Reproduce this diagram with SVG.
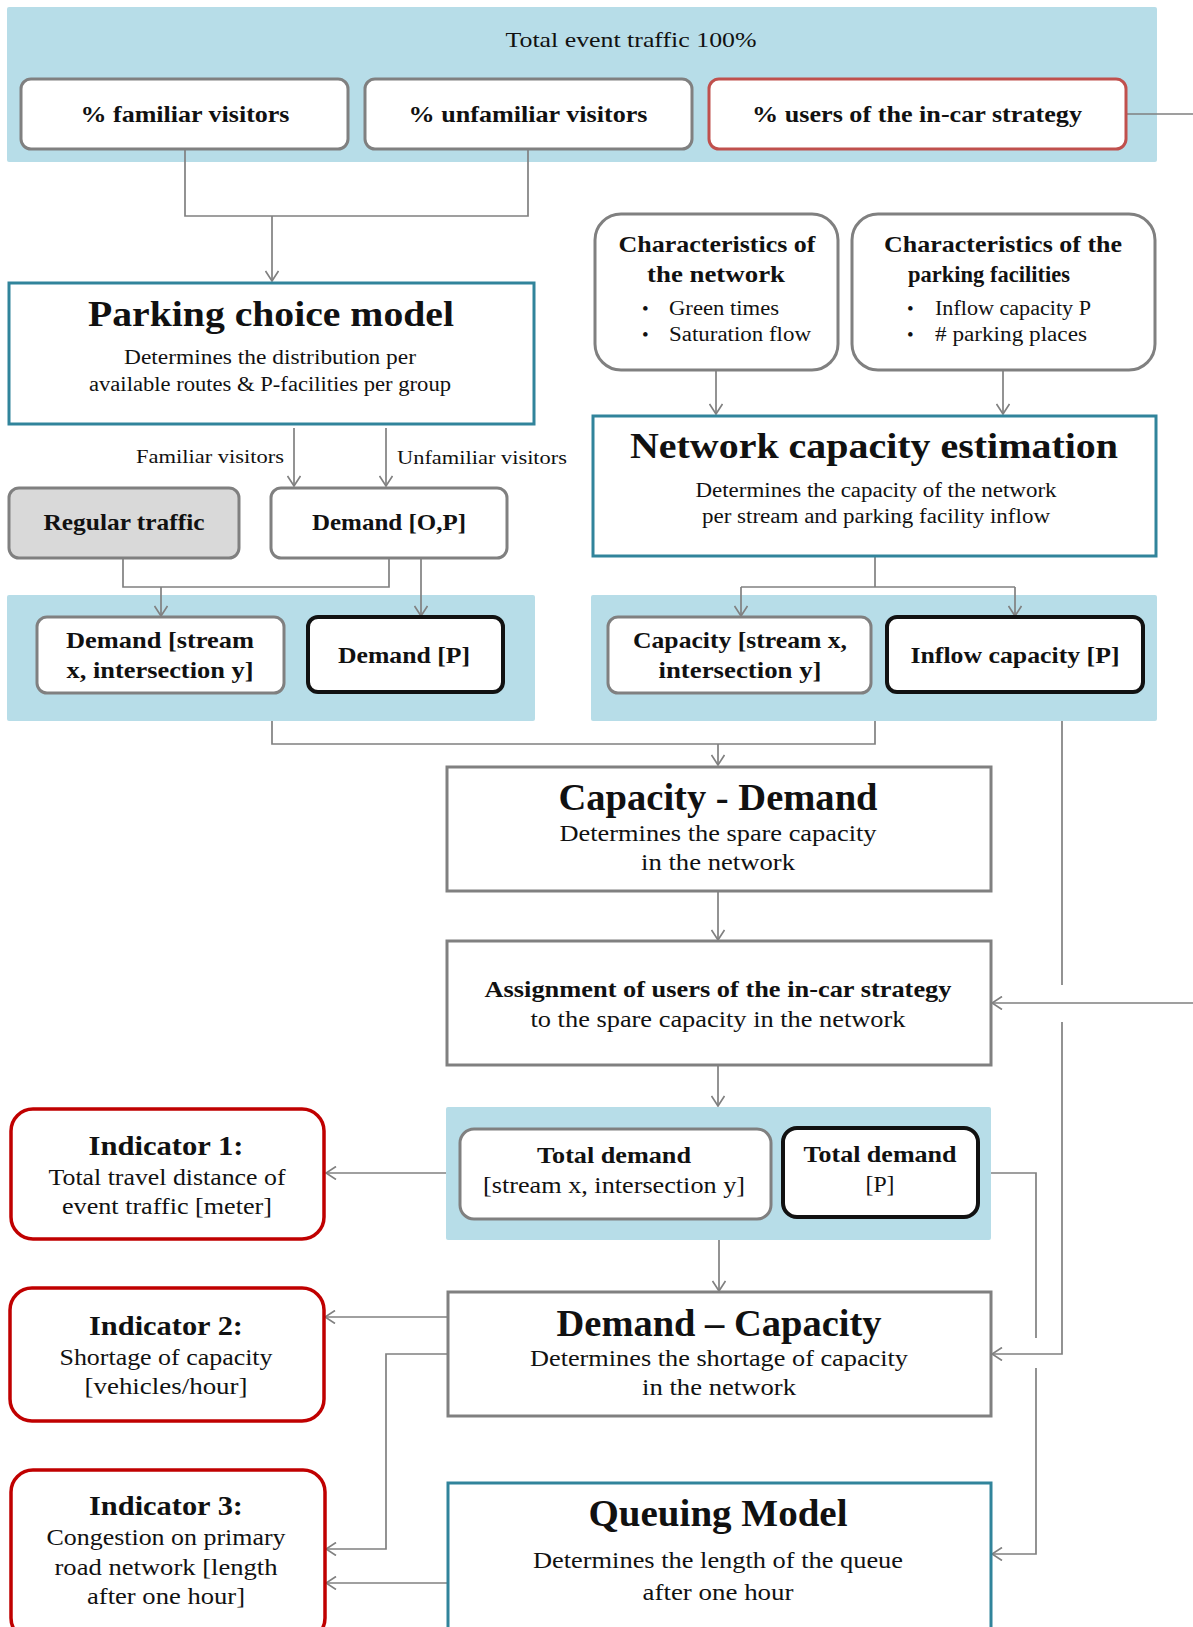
<svg xmlns="http://www.w3.org/2000/svg" width="1193" height="1627" viewBox="0 0 1193 1627">
  <style>
    .band { fill: #b7dde8; }
    .gbox { fill: #ffffff; stroke: #808080; stroke-width: 3; }
    .kbox { fill: #ffffff; stroke: #111111; stroke-width: 4; }
    .tbox { fill: #ffffff; stroke: #31849b; stroke-width: 3; }
    .rbox { fill: #ffffff; stroke: #c00000; stroke-width: 3.5; }
    .obox { fill: #ffffff; stroke: #c0504d; stroke-width: 3; }
    .grey { fill: #d9d9d9; stroke: #808080; stroke-width: 3; }
    .conn { fill: none; stroke: #808080; stroke-width: 1.7; }
    text { font-family: "Liberation Serif", "Times New Roman", serif; fill: #111111; text-anchor: middle; }
    .b { font-weight: bold; }
    .l { text-anchor: start; }
    .r { text-anchor: end; }
  </style>
  <defs>
    <marker id="arr" viewBox="0 0 12 14" refX="11" refY="7" markerWidth="12" markerHeight="14" orient="auto" markerUnits="userSpaceOnUse">
      <path d="M1,0.5 L11,7 L1,13.5" fill="none" stroke="#808080" stroke-width="1.7"/>
    </marker>
  </defs>

  <!-- shaded groupings -->
  <rect class="band" x="7" y="7" width="1150" height="155" rx="2"/>
  <rect class="band" x="7" y="595" width="528" height="126" rx="2"/>
  <rect class="band" x="591" y="595" width="566" height="126" rx="2"/>
  <rect class="band" x="446" y="1107" width="545" height="133" rx="2"/>

  <!-- connectors -->
  <g id="connectors">
    <path class="conn" d="M185,149 V216 H528 V149"/>
    <path class="conn" d="M272,216 V281" marker-end="url(#arr)"/>
    <path class="conn" d="M294,428 V486" marker-end="url(#arr)"/>
    <path class="conn" d="M386,428 V486" marker-end="url(#arr)"/>
    <path class="conn" d="M123,558 V587 H389 V558"/>
    <path class="conn" d="M161,587 V616" marker-end="url(#arr)"/>
    <path class="conn" d="M421,558 V616" marker-end="url(#arr)"/>
    <path class="conn" d="M716,370 V414" marker-end="url(#arr)"/>
    <path class="conn" d="M1003,370 V414" marker-end="url(#arr)"/>
    <path class="conn" d="M875,556 V587"/>
    <path class="conn" d="M741,587 H1015"/>
    <path class="conn" d="M741,587 V616" marker-end="url(#arr)"/>
    <path class="conn" d="M1015,587 V616" marker-end="url(#arr)"/>
    <path class="conn" d="M272,721 V744 H875 V721"/>
    <path class="conn" d="M718,744 V765" marker-end="url(#arr)"/>
    <path class="conn" d="M718,891 V940" marker-end="url(#arr)"/>
    <path class="conn" d="M1126,114 H1215 V1003 H992" marker-end="url(#arr)"/>
    <path class="conn" d="M1062,721 V985 M1062,1022 V1354 H992" marker-end="url(#arr)"/>
    <path class="conn" d="M718,1065 V1106" marker-end="url(#arr)"/>
    <path class="conn" d="M446,1173 H326" marker-end="url(#arr)"/>
    <path class="conn" d="M991,1173 H1036 V1338 M1036,1368 V1554 H992" marker-end="url(#arr)"/>
    <path class="conn" d="M719,1240 V1291" marker-end="url(#arr)"/>
    <path class="conn" d="M448,1317 H325" marker-end="url(#arr)"/>
    <path class="conn" d="M448,1354 H386 V1549 H326" marker-end="url(#arr)"/>
    <path class="conn" d="M448,1583 H326" marker-end="url(#arr)"/>
  </g>

  <text x="631" y="47" font-size="22" textLength="251" lengthAdjust="spacingAndGlyphs">Total event traffic 100%</text>

  <g id="familiar">
    <rect class="gbox" x="21" y="79" width="327" height="70" rx="10"/>
    <text class="b" x="185" y="122" font-size="23" textLength="209" lengthAdjust="spacingAndGlyphs">% familiar visitors</text>
  </g>
  <g id="unfamiliar">
    <rect class="gbox" x="365" y="79" width="327" height="70" rx="10"/>
    <text class="b" x="528" y="122" font-size="23" textLength="239" lengthAdjust="spacingAndGlyphs">% unfamiliar visitors</text>
  </g>
  <g id="incar">
    <rect class="obox" x="709" y="79" width="417" height="70" rx="10"/>
    <text class="b" x="917" y="122" font-size="23" textLength="330" lengthAdjust="spacingAndGlyphs">% users of the in-car strategy</text>
  </g>

  <g id="parking-choice">
    <rect class="tbox" x="9" y="283" width="525" height="141"/>
    <text class="b" x="271" y="326" font-size="36" textLength="366" lengthAdjust="spacingAndGlyphs">Parking choice model</text>
    <text x="270" y="364" font-size="20" textLength="292" lengthAdjust="spacingAndGlyphs">Determines the distribution per</text>
    <text x="270" y="391" font-size="20" textLength="362" lengthAdjust="spacingAndGlyphs">available routes &amp; P-facilities per group</text>
  </g>

  <text class="r" x="284" y="463" font-size="19" textLength="148" lengthAdjust="spacingAndGlyphs">Familiar visitors</text>
  <text class="l" x="397" y="464" font-size="19" textLength="170" lengthAdjust="spacingAndGlyphs">Unfamiliar visitors</text>

  <g id="regular-traffic">
    <rect class="grey" x="9" y="488" width="230" height="70" rx="10"/>
    <text class="b" x="124" y="530" font-size="23" textLength="161" lengthAdjust="spacingAndGlyphs">Regular traffic</text>
  </g>
  <g id="demand-op">
    <rect class="gbox" x="271" y="488" width="236" height="70" rx="10"/>
    <text class="b" x="389" y="530" font-size="23" textLength="154" lengthAdjust="spacingAndGlyphs">Demand [O,P]</text>
  </g>

  <g id="char-network">
    <rect class="gbox" x="595" y="214" width="243" height="156" rx="26"/>
    <text class="b" x="717" y="252" font-size="23" textLength="197" lengthAdjust="spacingAndGlyphs">Characteristics of</text>
    <text class="b" x="716" y="282" font-size="23" textLength="138" lengthAdjust="spacingAndGlyphs">the network</text>
    <text class="l" x="642" y="315" font-size="19">•</text>
    <text class="l" x="669" y="315" font-size="20" textLength="110" lengthAdjust="spacingAndGlyphs">Green times</text>
    <text class="l" x="642" y="341" font-size="19">•</text>
    <text class="l" x="669" y="341" font-size="20" textLength="142" lengthAdjust="spacingAndGlyphs">Saturation flow</text>
  </g>
  <g id="char-parking">
    <rect class="gbox" x="852" y="214" width="303" height="156" rx="26"/>
    <text class="b" x="1003" y="252" font-size="23" textLength="238" lengthAdjust="spacingAndGlyphs">Characteristics of the</text>
    <text class="b" x="989" y="282" font-size="23" textLength="162" lengthAdjust="spacingAndGlyphs">parking facilities</text>
    <text class="l" x="907" y="315" font-size="19">•</text>
    <text class="l" x="935" y="315" font-size="20" textLength="156" lengthAdjust="spacingAndGlyphs">Inflow capacity P</text>
    <text class="l" x="907" y="341" font-size="19">•</text>
    <text class="l" x="935" y="341" font-size="20" textLength="152" lengthAdjust="spacingAndGlyphs"># parking places</text>
  </g>

  <g id="network-capacity">
    <rect class="tbox" x="593" y="416" width="563" height="140"/>
    <text class="b" x="874" y="458" font-size="36" textLength="488" lengthAdjust="spacingAndGlyphs">Network capacity estimation</text>
    <text x="876" y="497" font-size="20" textLength="361" lengthAdjust="spacingAndGlyphs">Determines the capacity of the network</text>
    <text x="876" y="523" font-size="20" textLength="348" lengthAdjust="spacingAndGlyphs">per stream and parking facility inflow</text>
  </g>

  <g id="demand-stream">
    <rect class="gbox" x="37" y="617" width="247" height="76" rx="10"/>
    <text class="b" x="160" y="648" font-size="23" textLength="188" lengthAdjust="spacingAndGlyphs">Demand [stream</text>
    <text class="b" x="160" y="678" font-size="23" textLength="187" lengthAdjust="spacingAndGlyphs">x, intersection y]</text>
  </g>
  <g id="demand-p">
    <rect class="kbox" x="308" y="617" width="195" height="75" rx="10"/>
    <text class="b" x="404" y="663" font-size="23" textLength="132" lengthAdjust="spacingAndGlyphs">Demand [P]</text>
  </g>
  <g id="capacity-stream">
    <rect class="gbox" x="608" y="617" width="263" height="76" rx="10"/>
    <text class="b" x="740" y="648" font-size="23" textLength="214" lengthAdjust="spacingAndGlyphs">Capacity [stream x,</text>
    <text class="b" x="740" y="678" font-size="23" textLength="163" lengthAdjust="spacingAndGlyphs">intersection y]</text>
  </g>
  <g id="inflow-capacity">
    <rect class="kbox" x="887" y="617" width="256" height="75" rx="10"/>
    <text class="b" x="1015" y="663" font-size="23" textLength="209" lengthAdjust="spacingAndGlyphs">Inflow capacity [P]</text>
  </g>

  <g id="capacity-demand">
    <rect class="gbox" x="447" y="767" width="544" height="124"/>
    <text class="b" x="718" y="810" font-size="37" textLength="319" lengthAdjust="spacingAndGlyphs">Capacity - Demand</text>
    <text x="718" y="841" font-size="23" textLength="317" lengthAdjust="spacingAndGlyphs">Determines the spare capacity</text>
    <text x="718" y="870" font-size="23" textLength="154" lengthAdjust="spacingAndGlyphs">in the network</text>
  </g>

  <g id="assignment">
    <rect class="gbox" x="447" y="941" width="544" height="124"/>
    <text class="b" x="718" y="997" font-size="23" textLength="467" lengthAdjust="spacingAndGlyphs">Assignment of users of the in-car strategy</text>
    <text x="718" y="1027" font-size="23" textLength="375" lengthAdjust="spacingAndGlyphs">to the spare capacity in the network</text>
  </g>

  <g id="total-demand-stream">
    <rect class="gbox" x="460" y="1129" width="311" height="90" rx="14"/>
    <text class="b" x="614" y="1163" font-size="23" textLength="154" lengthAdjust="spacingAndGlyphs">Total demand</text>
    <text x="614" y="1193" font-size="23" textLength="262" lengthAdjust="spacingAndGlyphs">[stream x, intersection y]</text>
  </g>
  <g id="total-demand-p">
    <rect class="kbox" x="783" y="1128" width="195" height="89" rx="14"/>
    <text class="b" x="880" y="1162" font-size="23" textLength="153" lengthAdjust="spacingAndGlyphs">Total demand</text>
    <text x="880" y="1192" font-size="23" textLength="29" lengthAdjust="spacingAndGlyphs">[P]</text>
  </g>

  <g id="demand-capacity">
    <rect class="gbox" x="448" y="1292" width="543" height="124"/>
    <text class="b" x="719" y="1336" font-size="37" textLength="325" lengthAdjust="spacingAndGlyphs">Demand – Capacity</text>
    <text x="719" y="1366" font-size="23" textLength="378" lengthAdjust="spacingAndGlyphs">Determines the shortage of capacity</text>
    <text x="719" y="1395" font-size="23" textLength="154" lengthAdjust="spacingAndGlyphs">in the network</text>
  </g>

  <g id="queuing-model">
    <rect class="tbox" x="448" y="1483" width="543" height="160"/>
    <text class="b" x="718" y="1526" font-size="37" textLength="259" lengthAdjust="spacingAndGlyphs">Queuing Model</text>
    <text x="718" y="1568" font-size="23" textLength="370" lengthAdjust="spacingAndGlyphs">Determines the length of the queue</text>
    <text x="718" y="1600" font-size="23" textLength="151" lengthAdjust="spacingAndGlyphs">after one hour</text>
  </g>

  <g id="indicator-1">
    <rect class="rbox" x="11" y="1109" width="313" height="130" rx="22"/>
    <text class="b" x="166" y="1155" font-size="27" textLength="155" lengthAdjust="spacingAndGlyphs">Indicator 1:</text>
    <text x="167" y="1185" font-size="23" textLength="237" lengthAdjust="spacingAndGlyphs">Total travel distance of</text>
    <text x="167" y="1214" font-size="23" textLength="210" lengthAdjust="spacingAndGlyphs">event traffic [meter]</text>
  </g>
  <g id="indicator-2">
    <rect class="rbox" x="10" y="1288" width="314" height="133" rx="22"/>
    <text class="b" x="166" y="1335" font-size="27" textLength="154" lengthAdjust="spacingAndGlyphs">Indicator 2:</text>
    <text x="166" y="1365" font-size="23" textLength="213" lengthAdjust="spacingAndGlyphs">Shortage of capacity</text>
    <text x="166" y="1394" font-size="23" textLength="163" lengthAdjust="spacingAndGlyphs">[vehicles/hour]</text>
  </g>
  <g id="indicator-3">
    <rect class="rbox" x="11" y="1470" width="314" height="170" rx="22"/>
    <text class="b" x="166" y="1515" font-size="27" textLength="154" lengthAdjust="spacingAndGlyphs">Indicator 3:</text>
    <text x="166" y="1545" font-size="23" textLength="239" lengthAdjust="spacingAndGlyphs">Congestion on primary</text>
    <text x="166" y="1575" font-size="23" textLength="223" lengthAdjust="spacingAndGlyphs">road network [length</text>
    <text x="166" y="1604" font-size="23" textLength="158" lengthAdjust="spacingAndGlyphs">after one hour]</text>
  </g>
</svg>
